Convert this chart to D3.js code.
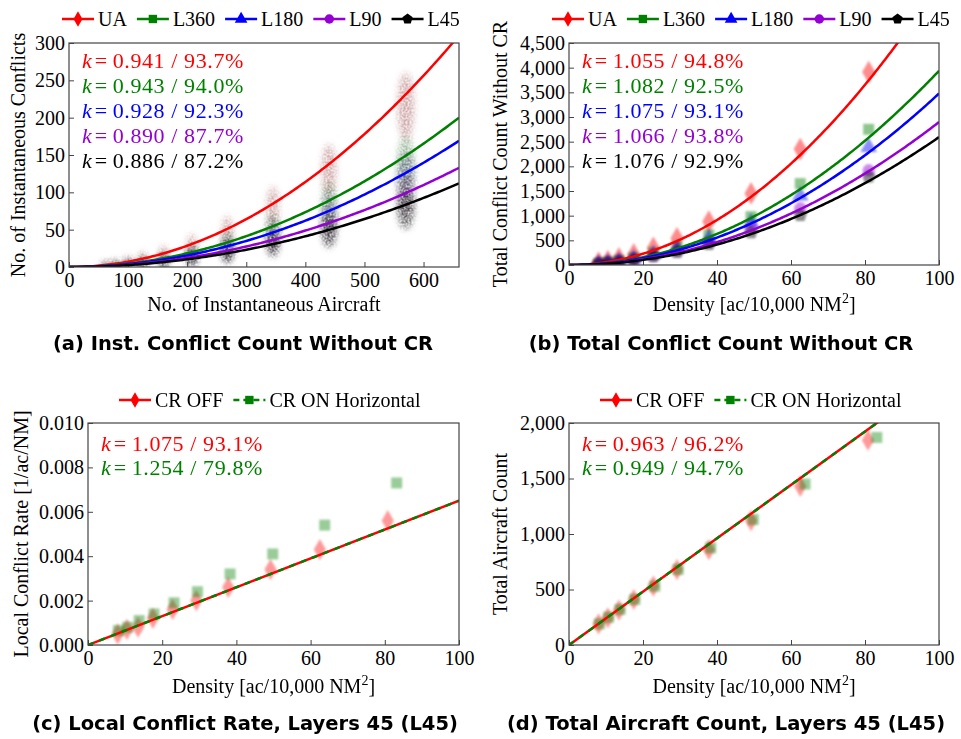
<!DOCTYPE html>
<html>
<head>
<meta charset="utf-8">
<script src="https://cdn.jsdelivr.net/npm/d3@7"></script>
<style>
  body { margin: 0; background: #fff; }
</style>
</head>
<body>
<svg id="fig" width="961" height="739"></svg>
<script>
// ---------- series metadata ----------
const layerNames = ["UA", "L360", "L180", "L90", "L45"];
const layerColors = ["#ff0000", "#008000", "#0000ff", "#9400d3", "#000000"];
const cloudColors = ["#8a2a2a", "#1f5f1f", "#282868", "#4a224a", "#000000"];
const layerSymbols = ["diamond", "square", "triangle", "circle", "pentagon"];

// ---------- (a) instantaneous conflicts vs instantaneous aircraft ----------
const aircraftBins = [62, 78, 100, 125, 160, 208, 268, 345, 440, 570];
const aircraftHalfWidth = [5, 5, 6, 6, 7, 8, 9, 10, 12, 14];
const instConflicts = {
  UA:   [3, 4, 7, 11, 17, 28, 47, 80, 130, 215],
  L360: [2, 3, 4.5, 7, 11, 19, 31, 50, 85, 140],
  L180: [1.5, 2.3, 3.8, 6, 9.5, 16, 27, 44, 72, 121],
  L90:  [1.2, 1.8, 3, 4.7, 7.5, 13, 21, 35, 58, 97],
  L45:  [1, 1.5, 2.5, 3.9, 6.5, 11, 18, 31, 47, 78]
};
const instSpread = {
  UA:   [5, 6, 8, 10, 12, 16, 21, 27, 34, 45],
  L360: [4, 5, 6, 8, 10, 13, 17, 21, 28, 35],
  L180: [4, 5, 6, 7, 9, 12, 16, 20, 26, 33],
  L90:  [3, 4, 5, 7, 8, 11, 14, 18, 23, 30],
  L45:  [3, 4, 5, 6, 8, 10, 13, 17, 21, 27]
};
// quadratic fit coefficients  y = c * x^2
const instFitCoef = [7.12e-4, 4.59e-4, 3.88e-4, 3.05e-4, 2.57e-4];
const instK = ["0.941 / 93.7%", "0.943 / 94.0%", "0.928 / 92.3%", "0.890 / 87.7%", "0.886 / 87.2%"];

// ---------- (b) total conflicts vs density ----------
const densityBins = [8, 10.5, 13.5, 17.5, 22.8, 29.2, 37.8, 49.2, 62.5, 81];
const totalConflicts = {
  UA:   [47, 80, 133, 213, 347, 540, 880, 1450, 2350, 3910],
  L360: [33, 60, 93, 147, 247, 380, 613, 980, 1650, 2750],
  L180: [28, 50, 80, 130, 215, 330, 530, 860, 1405, 2390],
  L90:  [25, 45, 70, 115, 190, 290, 470, 760, 1150, 1920],
  L45:  [22, 40, 62, 100, 170, 260, 420, 660, 1010, 1790]
};
const totalFitCoef = [0.5707, 0.3936, 0.3476, 0.2897, 0.2592];
const totalK = ["1.055 / 94.8%", "1.082 / 92.5%", "1.075 / 93.1%", "1.066 / 93.8%", "1.076 / 92.9%"];

// ---------- (c), (d) CR OFF vs CR ON (L45) ----------
const crNames = ["CR OFF", "CR ON Horizontal"];
const crColors = ["#ff0000", "#008000"];
const densityOff = [8, 10.5, 13.5, 17.5, 22.8, 29.2, 37.8, 49.2, 62.5, 80.8];
const densityOn  = [8.2, 10.7, 13.8, 17.8, 23.2, 29.5, 38.3, 49.8, 63.8, 83.2];
const localRateOff = [0.0005, 0.0007, 0.0008, 0.0012, 0.0016, 0.0020, 0.0026, 0.0034, 0.0043, 0.0056];
const localRateOn  = [0.00065, 0.0008, 0.0011, 0.0014, 0.0019, 0.0024, 0.0032, 0.0041, 0.0054, 0.0073];
const rateSlope = [6.5e-5, 6.5e-5];
const rateK = ["1.075 / 93.1%", "1.254 / 79.8%"];
const aircraftOff = [190, 245, 315, 410, 530, 680, 860, 1120, 1430, 1845];
const aircraftOn  = [190, 250, 320, 410, 530, 680, 875, 1130, 1450, 1870];
const aircraftSlope = [24.04, 24.04];
const aircraftK = ["0.963 / 96.2%", "0.949 / 94.7%"];

// ---------- panel captions & tick values ----------
const captions = [
  "(a) Inst. Conflict Count Without CR",
  "(b) Total Conflict Count Without CR",
  "(c) Local Conflict Rate, Layers 45 (L45)",
  "(d) Total Aircraft Count, Layers 45 (L45)"
];
const ticksA_x = [0, 100, 200, 300, 400, 500, 600];
const ticksA_y = [0, 50, 100, 150, 200, 250, 300];
const ticksDensity = [0, 20, 40, 60, 80, 100];
const ticksB_y = [0, 500, 1000, 1500, 2000, 2500, 3000, 3500, 4000, 4500];
const ticksC_y = [0, 0.002, 0.004, 0.006, 0.008, 0.010];
const ticksD_y = [0, 500, 1000, 1500, 2000];

// ---------- drawing ----------
const SERIF = "'Liberation Serif', 'Times New Roman', serif";
const SANS_BOLD = "'DejaVu Sans', Verdana, sans-serif";
const svg = d3.select("#fig");
const defs = svg.append("defs");

// speckled soft cloud: blurred shape masked by fine noise
const cloudFilter = defs.append("filter").attr("id", "cloud")
  .attr("x", "-50%").attr("y", "-50%").attr("width", "200%").attr("height", "200%");
cloudFilter.append("feGaussianBlur").attr("in", "SourceGraphic").attr("stdDeviation", 3).attr("result", "blur");
cloudFilter.append("feTurbulence").attr("type", "fractalNoise").attr("baseFrequency", 0.5)
  .attr("numOctaves", 2).attr("seed", 3).attr("result", "noise");
cloudFilter.append("feColorMatrix").attr("in", "noise").attr("type", "matrix")
  .attr("values", "0 0 0 0 0  0 0 0 0 0  0 0 0 0 0  0 0 0 1.6 -0.15").attr("result", "grain");
cloudFilter.append("feComposite").attr("in", "blur").attr("in2", "grain").attr("operator", "in");

defs.append("filter").attr("id", "soft").attr("x", "-50%").attr("y", "-50%").attr("width", "200%").attr("height", "200%")
  .append("feGaussianBlur").attr("stdDeviation", 0.8);

const symbolPentagon = {
  draw(ctx, size) {
    const r = Math.sqrt(size / (2.5 * Math.sin(2 * Math.PI / 5)));
    for (let i = 0; i < 5; i++) {
      const a = -Math.PI / 2 + i * 2 * Math.PI / 5;
      const px = r * Math.cos(a), py = r * Math.sin(a);
      if (i === 0) ctx.moveTo(px, py); else ctx.lineTo(px, py);
    }
    ctx.closePath();
  }
};
const symbolTypes = {
  diamond: d3.symbolDiamond, square: d3.symbolSquare, triangle: d3.symbolTriangle,
  circle: d3.symbolCircle, pentagon: symbolPentagon
};
function symbolPath(name, size) { return d3.symbol().type(symbolTypes[name]).size(size)(); }

const panels = {
  a: { left: 69, right: 459, top: 43, bottom: 267 },
  b: { left: 569, right: 939, top: 43, bottom: 265 },
  c: { left: 88, right: 459, top: 423, bottom: 645 },
  d: { left: 569, right: 939, top: 423, bottom: 645 }
};

function txt(sel) { return sel.append("text").attr("font-family", SERIF).attr("fill", "#000"); }

function makeAxes(p, xDom, yDom, xTicks, yTicks, yFmt) {
  const x = d3.scaleLinear().domain(xDom).range([p.left, p.right]);
  const y = d3.scaleLinear().domain(yDom).range([p.bottom, p.top]);
  const g = svg.append("g");
  const ax = g.append("g").attr("transform", `translate(0,${p.bottom})`)
    .call(d3.axisBottom(x).tickValues(xTicks).tickSize(-5).tickPadding(6).tickFormat(d3.format("d")));
  const ay = g.append("g").attr("transform", `translate(${p.left},0)`)
    .call(d3.axisLeft(y).tickValues(yTicks).tickSize(-5).tickPadding(4).tickFormat(yFmt));
  [ax, ay].forEach(a => {
    a.attr("font-family", SERIF).attr("font-size", 20);
    a.select(".domain").remove();
    a.selectAll("line").attr("stroke", "#444");
    a.selectAll("text").attr("font-family", SERIF).attr("font-size", 20).attr("fill", "#000");
  });
  return { x, y };
}
function drawFrame(p) {
  svg.append("rect").attr("x", p.left).attr("y", p.top)
    .attr("width", p.right - p.left).attr("height", p.bottom - p.top)
    .attr("fill", "none").attr("stroke", "#444").attr("stroke-width", 1.2);
}
function clipFor(id, p) {
  defs.append("clipPath").attr("id", id).append("rect")
    .attr("x", p.left).attr("y", p.top).attr("width", p.right - p.left).attr("height", p.bottom - p.top);
  return svg.append("g").attr("clip-path", `url(#${id})`);
}
function densityLabel(p, baseline) {
  const t = txt(svg).attr("x", (p.left + p.right) / 2).attr("y", baseline)
    .attr("text-anchor", "middle").attr("font-size", 20);
  t.append("tspan").text("Density [ac/10,000 NM");
  t.append("tspan").attr("dy", -8).attr("font-size", 14).text("2");
  t.append("tspan").attr("dy", 8).text("]");
}
function yLabel(text, xBase, p) {
  txt(svg).attr("transform", `translate(${xBase},${(p.top + p.bottom) / 2}) rotate(-90)`)
    .attr("text-anchor", "middle").attr("font-size", 20).text(text);
}
function kLabels(x0, y0, dy, texts, colors) {
  texts.forEach((s, i) => {
    const t = txt(svg).attr("x", x0).attr("y", y0 + i * dy)
      .attr("font-size", 22).attr("fill", colors[i]);
    t.append("tspan").attr("font-style", "italic").text("k");
    t.append("tspan").attr("dx", 3).text("= ");
    t.append("tspan").attr("letter-spacing", 0.6).text(s);
  });
}
function legend(x0, yc, names, colors, symbols, dashed) {
  let x = x0;
  names.forEach((n, i) => {
    const g = svg.append("g");
    g.append("line").attr("x1", x).attr("x2", x + 32).attr("y1", yc).attr("y2", yc)
      .attr("stroke", colors[i]).attr("stroke-width", 2.5)
      .attr("stroke-dasharray", dashed[i] ? "6,4" : null);
    g.append("path").attr("d", symbolPath(symbols[i], 70))
      .attr("transform", `translate(${x + 16},${yc})`).attr("fill", colors[i]);
    const t = txt(g).attr("x", x + 36).attr("y", yc + 7).attr("font-size", 20).text(n);
    x += 36 + t.node().getComputedTextLength() + 10;
  });
}
function caption(text, cx, baseline) {
  svg.append("text").attr("x", cx).attr("y", baseline)
    .attr("font-family", SANS_BOLD).attr("font-weight", 700).attr("fill", "#000")
    .attr("text-anchor", "middle").attr("font-size", 19.5).text(text);
}

// ===== panel (a) =====
{
  const p = panels.a;
  const { x, y } = makeAxes(p, [0, 660], [0, 300], ticksA_x, ticksA_y, d3.format("d"));
  const g = clipFor("clipA", p);
  layerNames.forEach((name, si) => {
    const vals = instConflicts[name], sp = instSpread[name];
    g.append("g").attr("filter", "url(#cloud)")
      .selectAll("ellipse").data(aircraftBins).join("ellipse")
      .attr("cx", d => x(d))
      .attr("cy", (d, i) => y(vals[i]))
      .attr("rx", (d, i) => x(aircraftHalfWidth[i]) - x(0))
      .attr("ry", (d, i) => y(0) - y(sp[i]))
      .attr("fill", cloudColors[si])
      .attr("opacity", si === 4 ? 0.6 : 0.4);
  });
  const xs = d3.range(0, 661, 4);
  layerNames.forEach((name, si) => {
    g.append("path").datum(xs)
      .attr("d", d3.line().x(d => x(d)).y(d => y(instFitCoef[si] * d * d)))
      .attr("fill", "none").attr("stroke", layerColors[si]).attr("stroke-width", 2.5);
  });
  drawFrame(p);
  kLabels(82, 68, 25, instK, layerColors);
  txt(svg).attr("x", (p.left + p.right) / 2).attr("y", 311)
    .attr("text-anchor", "middle").attr("font-size", 20).text("No. of Instantaneous Aircraft");
  yLabel("No. of Instantaneous Conflicts", 25, p);
  legend(62, 19, layerNames, layerColors, layerSymbols, [0, 0, 0, 0, 0]);
  caption(captions[0], 243, 350);
}

// ===== panel (b) =====
{
  const p = panels.b;
  const { x, y } = makeAxes(p, [0, 100], [0, 4500], ticksDensity, ticksB_y, d3.format(","));
  const g = clipFor("clipB", p);
  layerNames.forEach((name, si) => {
    g.append("g").attr("filter", "url(#soft)")
      .selectAll("path").data(densityBins).join("path")
      .attr("d", symbolPath(layerSymbols[si], si === 0 ? 150 : 120))
      .attr("transform", (d, i) => `translate(${x(d)},${y(totalConflicts[name][i])})`)
      .attr("fill", layerColors[si]).attr("opacity", 0.45);
  });
  const xs = d3.range(0, 100.5, 0.5);
  layerNames.forEach((name, si) => {
    g.append("path").datum(xs)
      .attr("d", d3.line().x(d => x(d)).y(d => y(totalFitCoef[si] * d * d)))
      .attr("fill", "none").attr("stroke", layerColors[si]).attr("stroke-width", 2.5);
  });
  drawFrame(p);
  kLabels(582, 68, 25, totalK, layerColors);
  densityLabel(p, 311);
  yLabel("Total Conflict Count Without CR", 507, p);
  legend(552, 19, layerNames, layerColors, layerSymbols, [0, 0, 0, 0, 0]);
  caption(captions[1], 721, 350);
}

// ===== panels (c) and (d) =====
function crPanel(p, clipId, yDom, yTicks, yFmt, offVals, onVals, slopes, kTexts, yText, yLabX, capText, capX, legX) {
  const { x, y } = makeAxes(p, [0, 100], yDom, ticksDensity, yTicks, yFmt);
  const g = clipFor(clipId, p);
  const series = [
    { xs: densityOff, ys: offVals, sym: "diamond", size: 130 },
    { xs: densityOn, ys: onVals, sym: "square", size: 120 }
  ];
  series.forEach((s, si) => {
    g.append("g").attr("filter", "url(#soft)")
      .selectAll("path").data(s.xs).join("path")
      .attr("d", symbolPath(s.sym, s.size))
      .attr("transform", (d, i) => `translate(${x(d)},${y(s.ys[i])})`)
      .attr("fill", crColors[si]).attr("opacity", 0.4);
  });
  const xs = [0, 100];
  g.append("path").datum(xs)
    .attr("d", d3.line().x(d => x(d)).y(d => y(slopes[0] * d)))
    .attr("fill", "none").attr("stroke", crColors[0]).attr("stroke-width", 2.5);
  g.append("path").datum(xs)
    .attr("d", d3.line().x(d => x(d)).y(d => y(slopes[1] * d)))
    .attr("fill", "none").attr("stroke", crColors[1]).attr("stroke-width", 2.5)
    .attr("stroke-dasharray", "6,6");
  drawFrame(p);
  kLabels(p.left + 13, 451, 24, kTexts, crColors);
  densityLabel(p, 693);
  yLabel(yText, yLabX, p);
  legend(legX, 400, crNames, crColors, ["diamond", "square"], [0, 1]);
  caption(capText, capX, 730);
}
crPanel(panels.c, "clipC", [0, 0.010], ticksC_y, d3.format(".3f"), localRateOff, localRateOn,
  rateSlope, rateK, "Local Conflict Rate [1/ac/NM]", 28, captions[2], 245, 119);
crPanel(panels.d, "clipD", [0, 2000], ticksD_y, d3.format(","), aircraftOff, aircraftOn,
  aircraftSlope, aircraftK, "Total Aircraft Count", 507, captions[3], 726, 600);
</script>
</body>
</html>
